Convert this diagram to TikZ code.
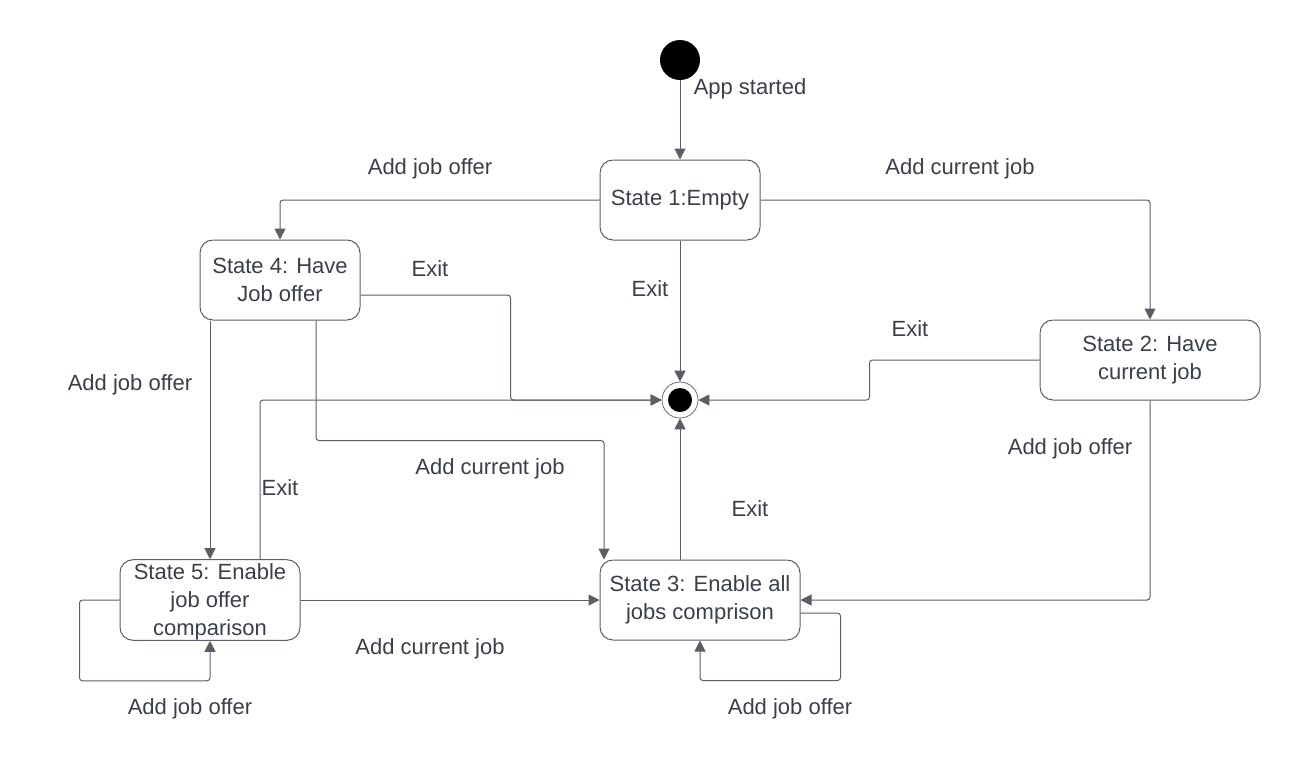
\documentclass[tikz,border=0pt]{standalone}
\usepackage{fontspec}
\setmainfont{Liberation Sans}
\usepackage{tikz}
\usetikzlibrary{arrows.meta}

\definecolor{wire}{HTML}{5B5E66}
\definecolor{ink}{HTML}{3A3F4A}

\begin{document}
\begin{tikzpicture}[x=1pt, y=-1pt, font=\fontsize{22}{28}\selectfont,
  statebox/.style={draw=wire, line width=1pt, rounded corners=13pt, text=ink, align=center, inner sep=0pt},
  lbl/.style={text=ink, inner sep=0pt},
  line/.style={draw=wire, line width=1pt, rounded corners=3pt, -{Triangle[length=11pt, width=11pt]}}]
  \fill[white] (0,0) rectangle (1300,780);
  \useasboundingbox (0,0) rectangle (1300,780);

  \node[circle, fill=black, minimum size=40pt, inner sep=0pt] (I) at (680,60) {};
  \node[circle, draw=wire, line width=0.7pt, minimum size=36pt, inner sep=0pt] (F) at (680,400) {};
  \fill[black] (F.center) circle (12pt);

  \node[statebox, minimum width=160pt, minimum height=80pt] (S1) at (680,200) {State 1:Empty};
  \node[statebox, minimum width=220pt, minimum height=80pt] (S2) at (1150,360) {State 2: Have\\current job};
  \node[statebox, minimum width=200pt, minimum height=80pt] (S3) at (700,600) {State 3: Enable all\\jobs comprison};
  \node[statebox, minimum width=160pt, minimum height=80pt] (S4) at (280,280) {State 4: Have\\Job offer};
  \node[statebox, minimum width=180pt, minimum height=80pt] (S5) at (210,600) {\rule{0pt}{20pt}State 5: Enable\\job offer\\comparison};

  \draw[line] (I) -- (S1.north);
  \draw[line] (S1.west) -| (S4.north);
  \draw[line] (S1.east) -| (S2.north);
  \draw[line] (S1.south) -- (F.north);

  \draw[line] ([yshift=-15pt]S4.east) -- ++(150,0) |- (F.west);
  \draw[line] (S2.west) -- ++(-170,0) |- (F.east);
  \draw[line] ([xshift=50pt]S5.north) |- (F.west);
  \draw[line] (F.south |- S3.north) -- (F.south);

  \draw[line] (S5.north |- S4.south) -- (S5.north);
  \draw[line] ([xshift=36pt]S4.south) -- ++(0,120) -| ([xshift=-96pt]S3.north);
  \draw[line] (S2.south) |- (S3.east);
  \draw[line] (S5.east) -- (S3.west);

  \draw[line] (S5.west) -- ++(-40,0) |- ([yshift=-40pt]S5.south) -- (S5.south);
  \draw[line] ([yshift=-13pt]S3.east) -- ++(40,0) |- ([yshift=-40pt]S3.south) -- (S3.south);

  \node[lbl] (L1) at (750,89) {App started};
  \node[lbl] (L2) at (430,169) {Add job offer};
  \node[lbl] (L3) at (960,169) {Add current job};
  \node[lbl] (L4) at (430,269) {Exit};
  \node[lbl] (L5) at (650,289) {Exit};
  \node[lbl] (L6) at (910,329) {Exit};
  \node[lbl] (L7) at (130,385) {Add job offer};
  \node[lbl] (L8) at (1070,449) {Add job offer};
  \node[lbl] (L9) at (490,469) {Add current job};
  \node[lbl] (L10) at (280,488) {Exit};
  \node[lbl] (L11) at (750,509) {Exit};
  \node[lbl] (L12) at (430,649) {Add current job};
  \node[lbl] (L13) at (190,709) {Add job offer};
  \node[lbl] (L14) at (790,709) {Add job offer};
\end{tikzpicture}
\end{document}
